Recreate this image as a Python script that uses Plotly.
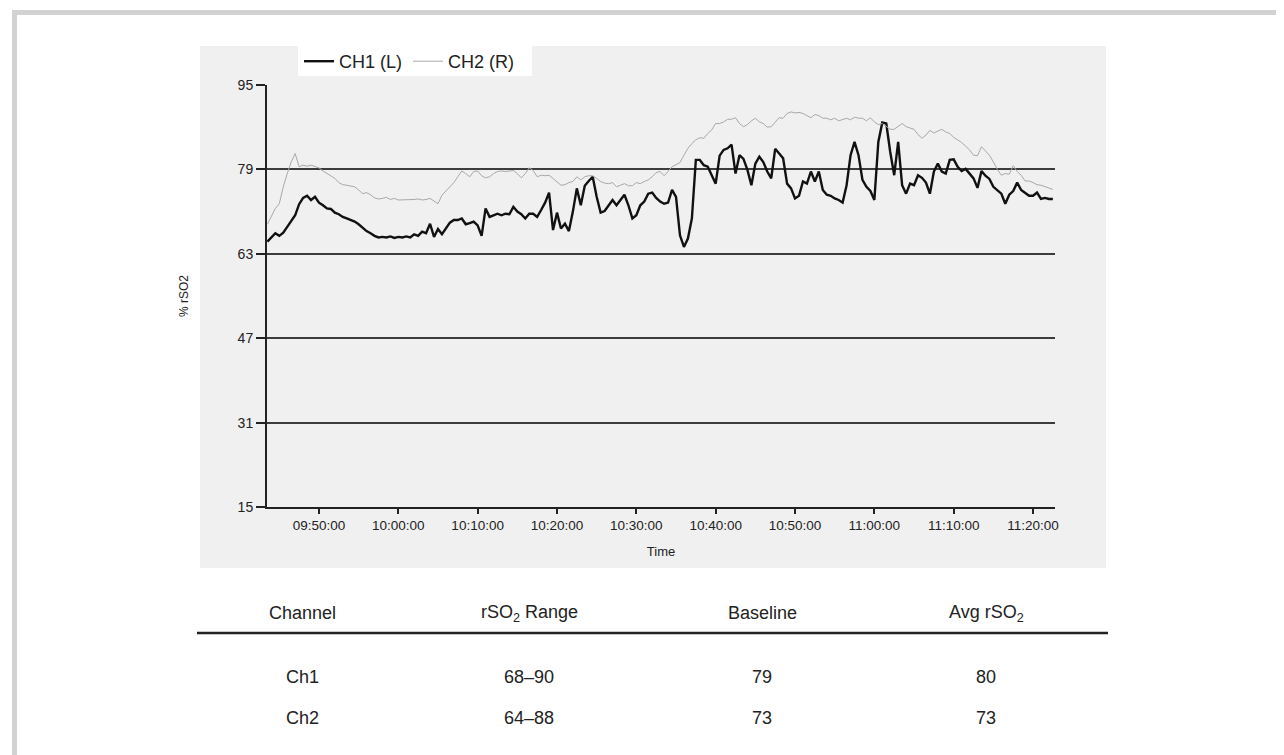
import pandas as pd
import plotly.graph_objects as go

# ---- data (sampled every 30 s from 09:43:30) ----
start_time = "2020-01-01 09:43:30"
n_samples = 199

ch1_values = [
    65.3, 66.2, 66.9, 66.4, 67.0, 68.1, 69.1, 70.3, 72.4, 73.6,
    74.0, 73.2, 73.8, 72.7, 72.2, 71.6, 71.5, 70.8, 70.5, 70.0,
    69.7, 69.4, 69.1, 68.6, 67.9, 67.3, 66.9, 66.4, 66.1, 66.2,
    66.1, 66.3, 66.0, 66.2, 66.1, 66.3, 66.1, 66.7, 66.4, 67.2,
    66.9, 68.7, 66.2, 67.7, 66.7, 67.9, 68.9, 69.4, 69.4, 69.7,
    68.6, 68.8, 69.1, 68.4, 66.4, 71.6, 70.0, 70.3, 70.6, 70.3,
    70.6, 70.5, 71.9, 71.0, 70.5, 69.7, 70.6, 70.6, 70.0, 71.3,
    72.7, 74.6, 67.5, 70.8, 67.8, 68.7, 67.3, 71.0, 75.4, 72.2,
    75.9, 76.8, 77.6, 73.8, 70.8, 71.1, 72.2, 73.2, 72.2, 73.2,
    74.2, 72.2, 69.7, 70.3, 72.2, 72.9, 74.4, 74.6, 73.6, 72.9,
    72.5, 72.7, 75.1, 73.8, 66.5, 64.3, 65.9, 69.7, 80.8, 80.8,
    79.8, 79.5, 77.9, 76.3, 81.6, 82.7, 83.0, 83.7, 78.2, 81.7,
    81.0, 78.9, 76.0, 80.1, 81.4, 80.4, 78.6, 77.3, 82.9, 82.0,
    81.1, 76.3, 75.4, 73.5, 74.0, 76.7, 76.3, 78.6, 76.7, 78.6,
    75.1, 74.2, 74.0, 73.5, 73.2, 72.7, 76.0, 81.7, 84.2, 81.7,
    77.0, 75.7, 74.9, 73.2, 84.2, 87.9, 87.7, 82.3, 77.9, 84.2,
    76.0, 74.4, 76.3, 76.0, 77.9, 77.4, 76.5, 74.4, 78.6, 80.1,
    78.6, 78.2, 80.8, 80.9, 79.5, 78.7, 79.1, 78.2, 77.3, 75.5,
    78.7, 77.8, 77.2, 75.7, 75.1, 74.4, 72.5, 74.2, 74.9, 76.5,
    75.1, 74.6, 74.0, 74.0, 74.6, 73.4, 73.6, 73.4, 73.4,
]

ch2_values = [
    68.6, 70.0, 71.6, 72.5, 75.7, 78.2, 80.4, 82.0, 79.5, 79.8,
    79.6, 79.8, 79.6, 79.3, 78.7, 78.2, 77.8, 77.3, 76.5, 76.1,
    76.0, 75.8, 75.7, 75.1, 74.4, 74.6, 74.2, 73.6, 73.4, 73.5,
    73.7, 73.3, 73.5, 73.2, 73.2, 73.2, 73.2, 73.3, 73.4, 73.2,
    73.3, 73.5, 73.0, 72.5, 74.1, 74.9, 75.7, 76.5, 77.6, 78.7,
    78.2, 77.6, 78.6, 78.7, 77.8, 77.4, 77.6, 78.2, 78.6, 78.7,
    78.6, 78.7, 78.8, 78.2, 77.4, 78.2, 79.3, 78.8, 77.6, 77.9,
    77.8, 77.9, 77.3, 76.7, 76.0, 76.1, 76.5, 76.7, 77.6, 77.0,
    77.6, 77.8, 77.8, 77.3, 76.7, 76.4, 76.3, 76.5, 75.7, 76.0,
    76.3, 75.9, 75.9, 76.5, 76.3, 76.7, 77.0, 77.6, 78.4, 78.6,
    77.8, 78.6, 79.5, 79.9, 80.3, 81.7, 83.0, 83.9, 84.6, 85.0,
    84.9, 85.8, 86.5, 87.7, 87.7, 88.0, 88.5, 88.5, 88.8, 87.7,
    87.1, 87.5, 88.2, 88.7, 88.0, 87.7, 87.0, 87.1, 87.9, 88.8,
    88.7, 89.6, 89.9, 89.7, 89.8, 89.6, 89.2, 88.8, 89.4, 89.2,
    88.7, 88.7, 88.4, 88.7, 88.2, 88.4, 88.7, 88.4, 88.9, 88.7,
    88.7, 88.2, 88.8, 88.0, 87.5, 87.7, 87.1, 86.6, 86.6, 87.2,
    87.7, 87.1, 86.8, 86.6, 85.6, 84.9, 85.5, 86.4, 85.9, 86.3,
    86.6, 86.1, 85.8, 85.1, 84.6, 84.1, 83.4, 82.7, 81.7, 81.6,
    83.3, 82.5, 81.7, 80.4, 79.0, 77.9, 78.2, 78.1, 79.7, 78.6,
    77.9, 76.8, 76.8, 76.5, 76.1, 76.0, 75.7, 75.4, 75.2,
]

y_ticks = [15, 31, 47, 63, 79, 95]
x_ticks_start = "2020-01-01 09:50:00"

table_header = ["Channel", "rSO<sub>2</sub> Range", "Baseline", "Avg rSO<sub>2</sub>"]
table_rows = [
    ["Ch1", "68\u201390", "79", "80"],
    ["Ch2", "64\u201388", "73", "73"],
]

times = pd.date_range(start_time, periods=n_samples, freq="30s")

W, H = 1284, 755
OFF = 8  # page body margin applied by the browser


def px_x(x):
    return (x - OFF) / W


def px_y(y):
    return 1 - (y - OFF) / H


fig = go.Figure()
fig.add_trace(go.Scatter(x=times, y=ch1_values, mode="lines", name="CH1 (L)",
                         line=dict(color="#111111", width=2.4)))
fig.add_trace(go.Scatter(x=times, y=ch2_values, mode="lines", name="CH2 (R)",
                         line=dict(color="#a8a8a8", width=1)))

FONT = "Arial, Liberation Sans, sans-serif"

fig.update_layout(
    width=W, height=H,
    margin=dict(l=0, r=0, t=0, b=0, autoexpand=False),
    paper_bgcolor="white",
    plot_bgcolor="white",
    font=dict(family=FONT, color="#222222"),
    showlegend=True,
    legend=dict(orientation="h", x=px_x(299), y=px_y(43), xanchor="left", yanchor="top",
                bgcolor="rgba(0,0,0,0)", font=dict(size=18, color="#222222", family=FONT),
                itemwidth=30, entrywidth=64, tracegroupgap=0, traceorder="normal"),
    xaxis=dict(
        domain=[px_x(267), px_x(1055)],
        range=["2020-01-01 09:43:27", "2020-01-01 11:22:46"],
        tick0=x_ticks_start, dtick=600000, tickformat="%H:%M:%S",
        showline=True, linecolor="#222222", linewidth=2,
        ticks="outside", ticklen=5, tickwidth=1.5, tickcolor="#222222",
        showgrid=False, zeroline=False,
        tickfont=dict(size=13.5, color="#222222"),
        title=dict(text="Time", font=dict(size=13, color="#222222"), standoff=15),
        fixedrange=True,
    ),
    yaxis=dict(
        domain=[px_y(507), px_y(85)],
        range=[15, 95],
        tickvals=y_ticks,
        showline=True, linecolor="#222222", linewidth=2,
        ticks="outside", ticklen=9, tickwidth=1.5, tickcolor="#222222",
        showgrid=True, gridcolor="#3c3c3c", gridwidth=1.5, zeroline=False,
        tickfont=dict(size=14, color="#222222"),
        title=dict(text="% rSO2", font=dict(size=12, color="#222222"), standoff=46),
        fixedrange=True,
    ),
)

shapes = []
# outer light-grey frame (top and left)
shapes.append(dict(type="rect", xref="paper", yref="paper", x0=px_x(12), x1=px_x(1292),
                   y0=px_y(15), y1=px_y(10), fillcolor="#d2d2d2", line=dict(width=0), layer="below"))
shapes.append(dict(type="rect", xref="paper", yref="paper", x0=px_x(12), x1=px_x(17),
                   y0=px_y(763), y1=px_y(10), fillcolor="#d2d2d2", line=dict(width=0), layer="below"))
# grey chart panel
shapes.append(dict(type="rect", xref="paper", yref="paper", x0=px_x(200), x1=px_x(1106),
                   y0=px_y(568), y1=px_y(46), fillcolor="#f0f0f0", line=dict(width=0), layer="below"))
# white legend box
shapes.append(dict(type="rect", xref="paper", yref="paper", x0=px_x(298), x1=px_x(532),
                   y0=px_y(76), y1=px_y(46), fillcolor="white", line=dict(width=0), layer="below"))
# table rule
shapes.append(dict(type="line", xref="paper", yref="paper", x0=px_x(197), x1=px_x(1108),
                   y0=px_y(633), y1=px_y(633), line=dict(color="#222222", width=2.5)))
fig.update_layout(shapes=shapes)

col_x = [302, 529, 762, 986]
row_y = [613, 677, 718]
annotations = []
for cx, txt in zip(col_x, table_header):
    annotations.append(dict(x=px_x(cx), y=px_y(row_y[0]), xref="paper", yref="paper",
                            text=txt, showarrow=False, xanchor="center", yanchor="middle",
                            font=dict(size=18, color="#222222", family=FONT)))
for ry, row in zip(row_y[1:], table_rows):
    for cx, txt in zip(col_x, row):
        annotations.append(dict(x=px_x(cx), y=px_y(ry), xref="paper", yref="paper",
                                text=txt, showarrow=False, xanchor="center", yanchor="middle",
                                font=dict(size=18, color="#222222", family=FONT)))
fig.update_layout(annotations=annotations)

fig.write_html("out.html")
